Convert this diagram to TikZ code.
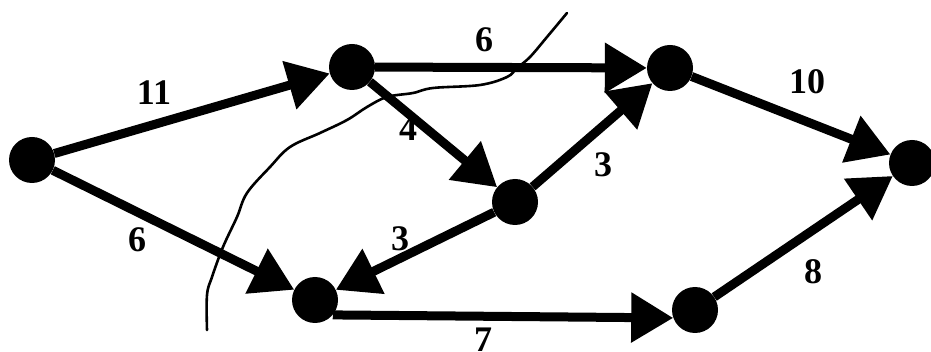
\documentclass[tikz,border=0pt]{standalone}
\usepackage{fontspec}
\setmainfont{Liberation Serif}
\usetikzlibrary{arrows.meta}
\begin{document}
\begin{tikzpicture}[x=1pt,y=-1pt,
  vtx/.style={circle,fill=black,inner sep=0pt,minimum size=46pt},
  arc/.style={line width=9pt,-{Triangle[length=42pt,width=48pt]}},
  lbl/.style={font=\bfseries\fontsize{36}{36}\selectfont,inner sep=0pt}]
\useasboundingbox (0,0) rectangle (931,352);
\node[vtx] (A) at (32,160) {};
\node[vtx] (B) at (352,67) {};
\node[vtx] (C) at (670,68) {};
\node[vtx] (D) at (912,163) {};
\node[vtx] (E) at (515,202) {};
\node[vtx] (F) at (315,300) {};
\node[vtx] (G) at (695,310) {};
\draw[arc] (A) -- (B);
\draw[arc] (A) -- (F);
\draw[arc] (B) -- (C);
\draw[arc] (B) -- (E);
\draw[arc] (E) -- (C);
\draw[arc] (E) -- (F);
\draw[arc] (F.-40) -- (G.200);
\draw[arc] (C) -- (D);
\draw[arc] (G) -- (D);
\draw[line width=2.6pt,line cap=round] plot[smooth,tension=0.6] coordinates {
 (567,13) (547,37) (530,57) (517,68) (507,77) (480,85) (433,88) (413,93)
 (387,97) (367,107) (347,120) (320,133) (290,147) (270,167) (247,193)
 (237,217) (223,247) (212,277) (207,295) (207,330)};
\node[lbl] (l1) at (154,93) {11};
\node[lbl] (l2) at (137,240) {6};
\node[lbl] (l3) at (484,40) {6};
\node[lbl] (l4) at (408,129) {4};
\node[lbl] (l5) at (603,165) {3};
\node[lbl] (l6) at (400,239) {3};
\node[lbl] (l7) at (483,340) {7};
\node[lbl] (l8) at (807,82) {10};
\node[lbl] (l9) at (813,272) {8};
\end{tikzpicture}
\end{document}
